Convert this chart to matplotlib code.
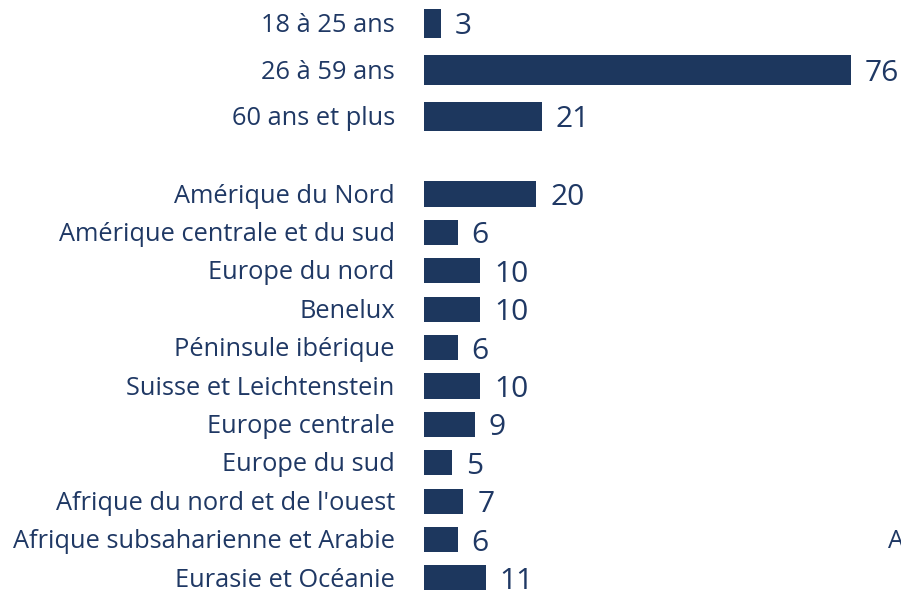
import matplotlib
matplotlib.use("Agg")
import matplotlib.pyplot as plt

# Tranches d'âge (graphique du haut)
age_labels = ["18 à 25 ans", "26 à 59 ans", "60 ans et plus"]
age_values = [3, 76, 21]

# Régions d'origine (graphique du bas)
region_labels = ["Amérique du Nord", "Amérique centrale et du sud", "Europe du nord",
                 "Benelux", "Péninsule ibérique", "Suisse et Leichtenstein",
                 "Europe centrale", "Europe du sud", "Afrique du nord et de l'ouest",
                 "Afrique subsaharienne et Arabie", "Eurasie et Océanie"]
region_values = [20, 6, 10, 10, 6, 10, 9, 5, 7, 6, 11]

BAR = "#1D375E"
TXT = "#1F3864"
W, H = 901, 590
PX_PER_UNIT = 5.62
X0 = 424  # left edge of the bars, px

plt.rcParams["font.family"] = ["Open Sans", "DejaVu Sans"]

fig = plt.figure(figsize=(W / 100, H / 100), dpi=100)


def panel(top_px, bottom_px, first_px, step_px, labels, values, height):
    ax = fig.add_axes([X0 / W, 1 - bottom_px / H, (W - X0) / W, (bottom_px - top_px) / H])
    ys = list(range(len(values)))
    ax.barh(ys, values, height=height, color=BAR)
    ax.set_xlim(0, (W - X0) / PX_PER_UNIT)
    off = (first_px - top_px) / step_px
    ax.set_ylim(-off + (bottom_px - top_px) / step_px, -off)
    for y, lab, v in zip(ys, labels, values):
        ax.annotate(lab, (0, y), xytext=(-21, -1.5), textcoords="offset points",
                    ha="right", va="center", fontsize=18.3, color=TXT,
                    annotation_clip=False)
        ax.annotate(str(v), (v, y), xytext=(10, -2.5), textcoords="offset points",
                    ha="left", va="center", fontsize=21.5, color=TXT,
                    annotation_clip=False)
    ax.axis("off")
    return ax


panel(0, 140, 23.5, 46.5, age_labels, age_values, 0.645)
panel(160, 590, 194, 38.4, region_labels, region_values, 0.66)

# libellé coupé d'un graphique voisin
fig.text(888 / W, 1 - 542 / H, "A", ha="left", va="center", fontsize=18.3, color=TXT)

fig.savefig("out.png", dpi=100)
